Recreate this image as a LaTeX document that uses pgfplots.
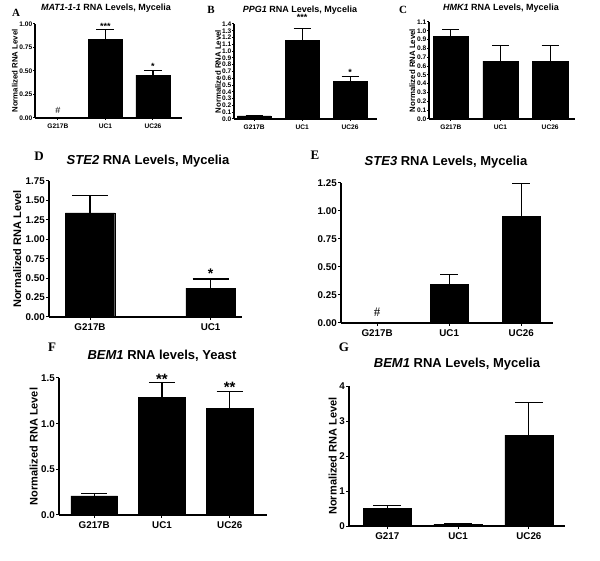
\documentclass[border=0pt]{standalone}
\usepackage{pgfplots}
\pgfplotsset{compat=1.18}
\usepackage{fontspec}
\setmainfont{Liberation Sans}
\newfontfamily\seriffont{Liberation Serif}
\newcommand{\fs}[1]{\fontsize{#1}{#1}\selectfont}
\pgfplotsset{
  prism/.style={
    scale only axis, anchor=south west,
    axis x line=bottom, axis y line=left,
    axis line style={-, line width=1.2pt},
    tick align=outside, major tick length=3pt,
    every tick/.style={black, line width=1pt},
    ymin=0, enlargelimits=false, clip=false,
    scaled y ticks=false,
    xtick={0,1,2}, xticklabels={G217B,UC1,UC26},
    /pgf/number format/assume math mode=true,
    yticklabel style={inner sep=1pt},
    ybar,
  },
  smallp/.style={
    major tick length=2pt,
    ticklabel style={font=\bfseries\fs{6.6}},
    yticklabel style={inner sep=0.5pt},
    ylabel style={font=\bfseries\fs{7.8}},
    ylabel={Normalized RNA Level},
  },
  bigp/.style={
    ticklabel style={font=\bfseries\fs{9.8}},
    ylabel style={font=\bfseries\fs{11}},
  },
  p2/.style={yticklabel style={/pgf/number format/.cd, fixed, fixed zerofill, precision=2}},
  p1/.style={yticklabel style={/pgf/number format/.cd, fixed, fixed zerofill, precision=1}},
  bars/.style={fill=black, draw=black,
    error bars/.cd, y dir=plus, y explicit,
    error bar style={line width=1.2pt, black},
    error mark options={black, line width=1.2pt, rotate=90, mark size=#1}},
}
\begin{document}
\begin{tikzpicture}
\path[use as bounding box] (0pt,0pt) rectangle (600pt,560pt);

% ---------- A ----------
\node[font=\seriffont\bfseries\fs{11}] at (16pt,547pt) {A};
\node[font=\bfseries\fs{9}] at (106pt,551.5pt) {\textit{MAT1-1-1} RNA Levels, Mycelia};
\begin{axis}[prism, smallp, p2, at={(35pt,442pt)}, width=147pt, height=94pt,
  xmin=-0.48, xmax=2.61, ymax=1, ytick={0,0.25,0.5,0.75,1}, bar width=0.72,
  ylabel shift=-2.4pt]
\addplot[bars=9pt] coordinates {(1,0.84) +- (0,0.10) (2,0.457) +- (0,0.05)};
\node[font=\bfseries\fs{9}] at (axis cs:1,0.97) {***};
\node[font=\bfseries\fs{9}] at (axis cs:2,0.545) {*};
\node[font=\fs{9}] at (axis cs:0,0.08) {\#};
\end{axis}

% ---------- B ----------
\node[font=\seriffont\bfseries\fs{11}] at (211pt,550pt) {B};
\node[font=\bfseries\fs{9}] at (300pt,550pt) {\textit{PPG1} RNA Levels, Mycelia};
\begin{axis}[prism, smallp, p1, at={(234pt,441pt)}, width=143pt, height=95pt,
  xmin=-0.42, xmax=2.56, ymax=1.4,
  ytick={0,0.1,0.2,0.3,0.4,0.5,0.6,0.7,0.8,0.9,1.0,1.1,1.2,1.3,1.4}, bar width=0.7,
  ylabel shift=-2.8pt]
\addplot[bars=8.5pt] coordinates {(0,0.045) +- (0,0) (1,1.157) +- (0,0.173) (2,0.55) +- (0,0.08)};
\node[font=\bfseries\fs{9}] at (axis cs:1,1.49) {***};
\node[font=\bfseries\fs{9}] at (axis cs:2,0.68) {*};
\end{axis}

% ---------- C ----------
\node[font=\seriffont\bfseries\fs{11}] at (403pt,550pt) {C};
\node[font=\bfseries\fs{9}] at (501pt,551.5pt) {\textit{HMK1} RNA Levels, Mycelia};
\begin{axis}[prism, smallp, p1, at={(429pt,441pt)}, width=146pt, height=97pt,
  xmin=-0.44, xmax=2.5, ymax=1.1,
  ytick={0,0.1,0.2,0.3,0.4,0.5,0.6,0.7,0.8,0.9,1.0,1.1}, bar width=0.71,
  ylabel shift=-2pt]
\addplot[bars=8.5pt] coordinates {(0,0.935) +- (0,0.08) (1,0.655) +- (0,0.18) (2,0.655) +- (0,0.18)};
\end{axis}

% ---------- D ----------
\node[font=\seriffont\bfseries\fs{13}] at (39pt,404pt) {D};
\node[font=\bfseries\fs{13}] at (148pt,399pt) {\textit{STE2} RNA Levels, Mycelia};
\begin{axis}[prism, bigp, p2, at={(49pt,243pt)}, width=193pt, height=136pt,
  xmin=-0.34, xmax=1.26, ymax=1.75, xtick={0,1}, xticklabels={G217B,UC1},
  ytick={0,0.25,0.5,0.75,1,1.25,1.5,1.75}, bar width=0.41,
  ylabel={Normalized RNA Level}, ylabel shift=0pt]
\addplot[bars=18pt] coordinates {(0,1.34) +- (0,0.22) (1,0.37) +- (0,0.12)};
\node[font=\bfseries\fs{14}] at (axis cs:1,0.555) {*};
\end{axis}

% ---------- E ----------
\node[font=\seriffont\bfseries\fs{13}] at (315pt,405pt) {E};
\node[font=\bfseries\fs{13}] at (446pt,398pt) {\textit{STE3} RNA Levels, Mycelia};
\begin{axis}[prism, bigp, p2, at={(341pt,237pt)}, width=212pt, height=140pt,
  xmin=-0.5, xmax=2.44, ymax=1.25,
  ytick={0,0.25,0.5,0.75,1,1.25}, bar width=0.53]
\addplot[bars=9pt] coordinates {(1,0.345) +- (0,0.09) (2,0.95) +- (0,0.295)};
\node[font=\seriffont\fs{13}] at (axis cs:0,0.094) {\#};
\end{axis}

% ---------- F ----------
\node[font=\seriffont\bfseries\fs{13}] at (52pt,213pt) {F};
\node[font=\bfseries\fs{13}] at (162pt,204pt) {\textit{BEM1} RNA levels, Yeast};
\begin{axis}[prism, bigp, p1, at={(59pt,45pt)}, width=208pt, height=137pt,
  xmin=-0.52, xmax=2.55, ymax=1.5,
  ytick={0,0.5,1,1.5}, bar width=0.69,
  ylabel={Normalized RNA Level}, ylabel shift=-1pt]
\addplot[bars=13pt] coordinates {(0,0.21) +- (0,0.025) (1,1.29) +- (0,0.16) (2,1.17) +- (0,0.18)};
\node[font=\bfseries\fs{15}] at (axis cs:1,1.49) {**};
\node[font=\bfseries\fs{15}] at (axis cs:2,1.40) {**};
\end{axis}

% ---------- G ----------
\node[font=\seriffont\bfseries\fs{13}] at (344pt,213pt) {G};
\node[font=\bfseries\fs{13}] at (457pt,196pt) {\textit{BEM1} RNA Levels, Mycelia};
\begin{axis}[prism, bigp, at={(349pt,34pt)}, width=216pt, height=140pt,
  xmin=-0.54, xmax=2.51, ymax=4, xticklabels={G217,UC1,UC26},
  ytick={0,1,2,3,4}, bar width=0.68,
  ylabel={Normalized RNA Level}, ylabel shift=-2pt]
\addplot[bars=14pt] coordinates {(0,0.50) +- (0,0.09) (1,0.057) +- (0,0) (2,2.6) +- (0,0.94)};
\end{axis}
\end{tikzpicture}
\end{document}
